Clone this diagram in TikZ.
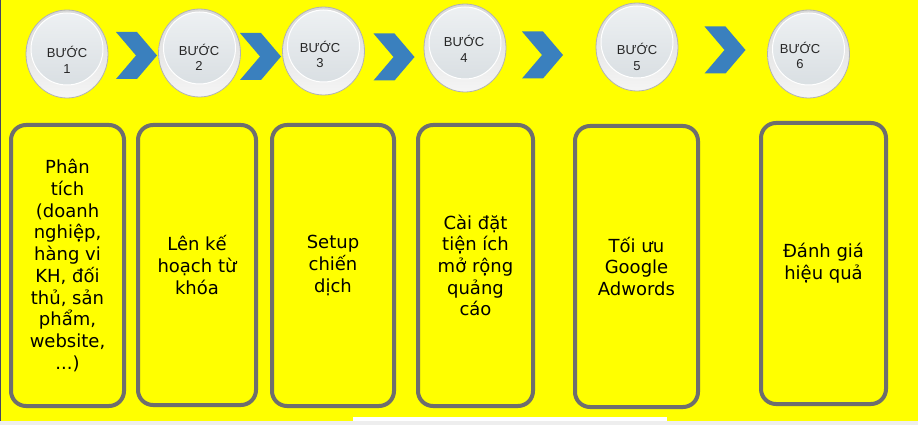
\documentclass[tikz,border=0pt]{standalone}
\usepackage{fontspec}
\newfontfamily\stepfont{Liberation Sans}
\newfontfamily\boxfont{DejaVu Sans}
\usepackage{tikz}
\usetikzlibrary{shapes,calc,positioning}
\definecolor{bgyellow}{RGB}{255,255,0}
\definecolor{bggray}{RGB}{238,238,238}
\definecolor{edgeblue}{RGB}{70,70,100}
\definecolor{chevblue}{RGB}{58,128,190}
\definecolor{boxgray}{RGB}{110,110,110}
\definecolor{balllight}{RGB}{238,241,243}
\definecolor{balldark}{RGB}{214,220,224}
\tikzset{
	chevron/.pic={
		\fill[chevblue]
		(-20.5,-23.5) -- ++(21,0) -- ++(20,23.5) -- ++(-20,23.5) -- ++(-21,0) -- ++(20,-23.5) -- cycle;
	},
	ball/.style={draw=gray!60, line width=0.8pt, ellipse, minimum width=82pt, minimum height=88pt, inner sep=0pt,
		top color=gray!30, bottom color=gray!8,
		path picture={
			\shade[top color=balllight, bottom color=balldark]
			([yshift=5pt]path picture bounding box.center) ellipse [x radius=36pt, y radius=36pt];
			\draw[white, line width=1pt]
			([yshift=5pt]path picture bounding box.center) ellipse [x radius=36pt, y radius=36pt];
		}},
	steplabel/.style={font=\stepfont\fontsize{13}{15.5}\selectfont, text=black!85, align=center, inner sep=0pt},
	stepbox/.style={draw=boxgray, line width=4pt, rounded corners=15pt, fill=bgyellow,
		font=\boxfont\fontsize{18}{21.7}\selectfont, align=center, inner sep=0pt},
}

\begin{document}
\begin{tikzpicture}[x=1pt, y=-1pt]
\useasboundingbox (0,0) rectangle (918,425);
% the background
\fill[bggray] (0,0) rectangle (918,425);
\fill[bgyellow] (0,0) rectangle (918,421);
\fill[white] (353,417) rectangle (667,421);
\fill[edgeblue] (0,0) rectangle (1.2,421);

% the circles
\foreach \i/\cx/\cy in {1/67/54, 2/199.5/53, 3/323.5/51, 4/465/48, 5/637/47, 6/808.5/54}
	\node[ball] (step\i) at (\cx,\cy) {};
\node[steplabel] (lbl1) at (67,60) {BƯỚC\\1};
\node[steplabel] (lbl2) at (199,57.5) {BƯỚC\\2};
\node[steplabel] (lbl3) at (320,54.5) {BƯỚC\\3};
\node[steplabel] (lbl4) at (464,49) {BƯỚC\\4};
\node[steplabel] (lbl5) at (637,57) {BƯỚC\\5};
\node[steplabel] (lbl6) at (800,55.5) {BƯỚC\\6};

% the arrows
\foreach \cx/\cy in {136.5/55.5, 260.5/56.5, 394/57, 542.5/55, 725/50}
	\path (\cx,\cy) pic {chevron};

% the boxes
\node[stepbox, minimum width=113pt, minimum height=281pt] (box1) at (67.5,265.5)
	{Phân\\tích\\(doanh\\nghiệp,\\hàng vi\\KH, đối\\thủ, sản\\phẩm,\\website,\\...)};
\node[stepbox, minimum width=118pt, minimum height=280pt] (box2) at (197,265)
	{Lên kế\\hoạch từ\\khóa};
\node[stepbox, minimum width=122pt, minimum height=281pt] (box3) at (333,265.5)
	{Setup\\chiến\\dịch};
\node[stepbox, minimum width=115pt, minimum height=281pt] (box4) at (475.5,265.5)
	{Cài đặt\\tiện ích\\mở rộng\\quảng\\cáo};
\node[stepbox, minimum width=123pt, minimum height=281pt] (box5) at (636.5,266.5)
	{Tối ưu\\Google\\Adwords};
\node[stepbox, minimum width=125pt, minimum height=281pt] (box6) at (823.5,263.5)
	{Đánh giá\\hiệu quả};

\end{tikzpicture}
\end{document}
